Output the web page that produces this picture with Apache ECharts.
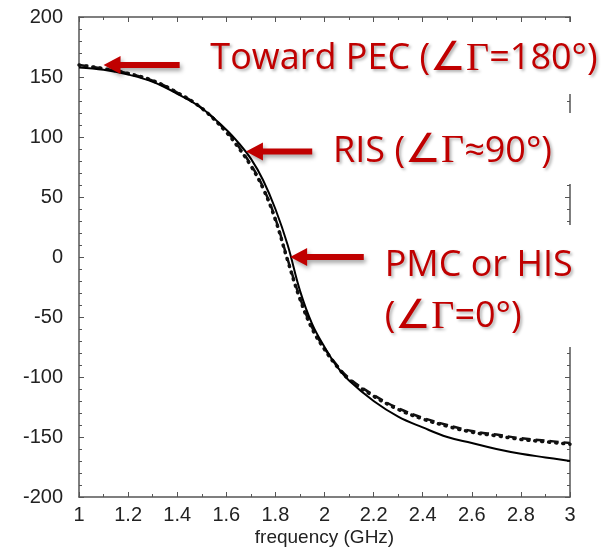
<!DOCTYPE html>
<html><head><meta charset="utf-8">
<script src="https://cdn.jsdelivr.net/npm/echarts@6/dist/echarts.min.js"></script>
<style>html,body{margin:0;padding:0;background:#fff}#c{width:605px;height:547px}</style>
</head><body><div id="c"></div>
<script>
// frequency (GHz)
const freq = [1.0,1.1,1.2,1.3,1.4,1.5,1.6,1.65,1.7,1.75,1.8,1.85,1.9,1.95,2.0,2.05,2.1,2.2,2.3,2.4,2.5,2.6,2.7,2.8,2.9,3.0];
// reflection phase (deg)
const solid  = [158,156,152,146,136,124,106,95,82,64,40,10,-28,-56,-75,-91,-103,-120,-133,-142,-150,-155,-160,-164,-167,-170];
const dashed = [160,157,153,147,137,124,105,92,77,58,32,-2,-34,-59,-76,-90,-101,-115,-126,-134,-140,-145,-148,-151,-153,-155];
const dotted = [160,157,153,147,137,124,104,91,76,57,31,-3,-35,-60,-77,-91,-102,-116,-127,-135,-141,-146,-149,-152,-154,-156];
const yTicks = [-200,-150,-100,-50,0,50,100,150,200];
const xTicks = [1,1.2,1.4,1.6,1.8,2,2.2,2.4,2.6,2.8,3];
// annotations: arrow tip [f, deg], tail frequency, label
const notes = [
  {tip:[1.1,160], tail:1.41, lines:[['Toward PEC (','∠Γ','=180°)']], at:[1.535,165]},
  {tip:[1.68,88], tail:1.95, lines:[['RIS (','∠Γ','≈90°)']], at:[2.035,88]},
  {tip:[1.86,0], tail:2.16, lines:[['PMC or HIS','',''],['(','∠Γ','=0°)']], at:[2.245,-7.5]}
];
const chart = echarts.init(document.getElementById('c'));
const mk = (v)=>freq.map((f,i)=>[f,v[i]]);
const axLine = {show:true, onZero:false, lineStyle:{color:'#555', width:1.5}};
const lab = {fontFamily:'Liberation Sans', fontSize:20, color:'#222'};
chart.setOption({
  animation:false,
  grid:{left:79, right:35, top:17, bottom:50, containLabel:false, outerBoundsMode:'none'},
  xAxis:[{type:'value', min:1, max:3, interval:0.2, axisLine:axLine,
    axisTick:{inside:true, length:5, lineStyle:{color:'#555'}},
    minorTick:{show:true, splitNumber:2, length:3, lineStyle:{color:'#555'}},
    splitLine:{show:false},
    axisLabel:Object.assign({margin:8, formatter:v=>String(+v.toFixed(1))}, lab),
    name:'frequency (GHz)', nameLocation:'middle', nameGap:31, nameMoveOverlap:false,
    nameTextStyle:{fontFamily:'Liberation Sans', fontSize:19, color:'#222', lineHeight:19, verticalAlign:'top'}},
   {type:'value', position:'top', min:1, max:3, interval:0.2, axisLine:axLine,
    axisTick:{inside:true, length:5, lineStyle:{color:'#555'}},
    minorTick:{show:true, splitNumber:2, length:3, lineStyle:{color:'#555'}},
    splitLine:{show:false}, axisLabel:{show:false}}],
  yAxis:[{type:'value', min:-200, max:200, interval:50, axisLine:axLine,
    axisTick:{inside:true, length:5, lineStyle:{color:'#555'}},
    minorTick:{show:true, splitNumber:5, length:3, lineStyle:{color:'#555'}},
    splitLine:{show:false},
    axisLabel:Object.assign({margin:16}, lab)},
   {type:'value', position:'right', min:-200, max:200, interval:50, axisLine:axLine,
    axisTick:{inside:true, length:5, lineStyle:{color:'#555'}},
    minorTick:{show:true, splitNumber:5, length:3, lineStyle:{color:'#555'}},
    splitLine:{show:false}, axisLabel:{show:false}}],
  series:[
    {type:'line', data:mk(solid), smooth:0.4, showSymbol:false, lineStyle:{color:'#000', width:2}, z:3},
    {type:'line', data:mk(dashed), smooth:0.4, showSymbol:false, lineStyle:{color:'#111', width:2.5, type:[9,5]}, z:2},
    {type:'line', data:mk(dotted), smooth:0.4, showSymbol:false, lineStyle:{color:'#111', width:3.5, type:[1,6], cap:'round'}, z:2}
  ]
});
const g = [];
// white boxes behind annotation text (cover right frame as in the original)
g.push({type:'rect', shape:{x:560,y:22,width:45,height:72}, style:{fill:'#fff'}, z:50});
g.push({type:'rect', shape:{x:560,y:113,width:45,height:71}, style:{fill:'#fff'}, z:50});
g.push({type:'rect', shape:{x:560,y:225,width:45,height:122}, style:{fill:'#fff'}, z:50});
const red = '#C00000';
const sh = {textShadowColor:'rgba(0,0,0,0.3)', textShadowBlur:3, textShadowOffsetX:2, textShadowOffsetY:2};
notes.forEach(n=>{
  const p = chart.convertToPixel({gridIndex:0}, n.tip);
  const q = chart.convertToPixel({gridIndex:0}, [n.tail, n.tip[1]]);
  const hl = 17, hw = 9, sw = 3;
  g.push({type:'polygon', z:60, shape:{points:[[p[0],p[1]],[p[0]+hl,p[1]-hw],[p[0]+hl,p[1]-sw],[q[0],p[1]-sw],[q[0],p[1]+sw],[p[0]+hl,p[1]+sw],[p[0]+hl,p[1]+hw]]},
    style:{fill:red, shadowBlur:4, shadowColor:'rgba(0,0,0,0.35)', shadowOffsetX:2, shadowOffsetY:3}});
  const a = chart.convertToPixel({gridIndex:0}, n.at);
  n.lines.forEach((ln,i)=>{
    g.push({type:'text', z:60, x:a[0], y:a[1]+i*51, style:{
      text:'{t|'+ln[0]+'}'+(ln[1]?'{s|'+ln[1]+'}':'')+(ln[2]?'{t|'+ln[2]+'}':''),
      verticalAlign:'middle', align:'left',
      rich:{t:Object.assign({fontFamily:'Open Sans', fontSize:36, fill:red}, sh),
            s:Object.assign({fontFamily:'Liberation Serif', fontSize:40, fill:red}, sh)}
    }});
  });
});
chart.setOption({graphic:g});
</script></body></html>
